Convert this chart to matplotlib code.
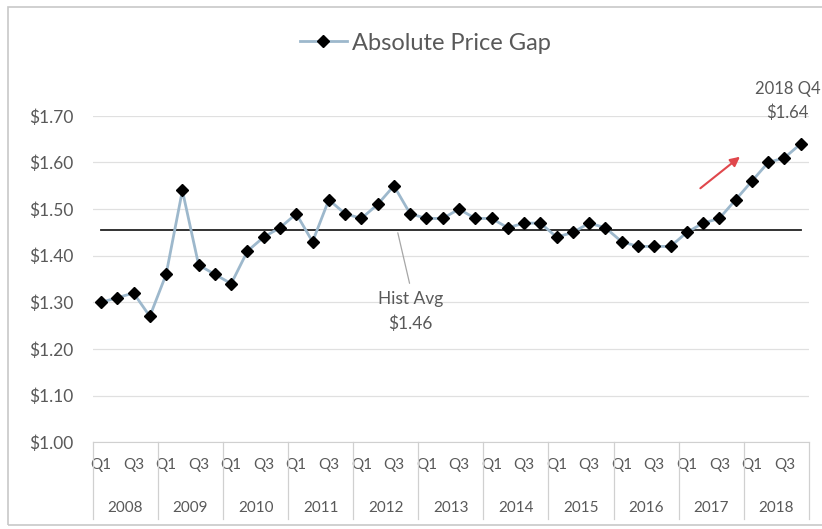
import matplotlib.pyplot as plt
from matplotlib.patches import Rectangle
from matplotlib import transforms

# data
years = ['2008', '2009', '2010', '2011', '2012', '2013',
         '2014', '2015', '2016', '2017', '2018']
quarters = ['Q1', 'Q2', 'Q3', 'Q4']
price_gap = [1.30, 1.31, 1.32, 1.27,
             1.36, 1.54, 1.38, 1.36,
             1.34, 1.41, 1.44, 1.46,
             1.49, 1.43, 1.52, 1.49,
             1.48, 1.51, 1.55, 1.49,
             1.48, 1.48, 1.50, 1.48,
             1.48, 1.46, 1.47, 1.47,
             1.44, 1.45, 1.47, 1.46,
             1.43, 1.42, 1.42, 1.42,
             1.45, 1.47, 1.48, 1.52,
             1.56, 1.60, 1.61, 1.64]
hist_avg = 1.455
yticks = [1.00, 1.10, 1.20, 1.30, 1.40, 1.50, 1.60, 1.70]

plt.rcParams['font.family'] = ['Lato', 'DejaVu Sans']
txt = '#595959'

fig = plt.figure(figsize=(8.22, 5.29), dpi=100)
ax = fig.add_axes([0.113, 0.164, 0.871, 0.617])

x = list(range(len(price_gap)))
ax.plot(x, price_gap, color='#9db8cc', lw=2, marker='D', ms=6.5,
        mfc='black', mec='black', label='Absolute Price Gap', zorder=3)
ax.plot([x[0], x[-1]], [hist_avg, hist_avg], color='#222222', lw=1.3, zorder=2)

ax.set_xlim(-0.5, len(x) - 0.5)
ax.set_ylim(1.00, 1.70)
ax.set_yticks(yticks)
ax.set_yticklabels(['${:.2f}'.format(v) for v in yticks], color=txt, fontsize=12.5)
ax.grid(axis='y', color='#e0e0e0', lw=0.9)
ax.set_axisbelow(True)

xlabels = []
for y in years:
    for q in quarters:
        xlabels.append(q if q in ('Q1', 'Q3') else '')
ax.set_xticks(x)
ax.set_xticklabels(xlabels, color=txt, fontsize=11)
ax.tick_params(axis='both', length=0)
ax.tick_params(axis='x', pad=11)
ax.tick_params(axis='y', pad=14)

for s in ['top', 'right', 'left']:
    ax.spines[s].set_visible(False)
ax.spines['bottom'].set_color('#d0d0d0')

# year labels and group separators
trans = transforms.blended_transform_factory(ax.transData, ax.transAxes)
for i, y in enumerate(years):
    ax.text(i * 4 + 1.5, -0.2, y, transform=trans, ha='center', va='center',
            color=txt, fontsize=11)
for i in range(len(years) + 1):
    ax.plot([i * 4 - 0.5, i * 4 - 0.5], [0, -0.235], transform=trans,
            color='#d0d0d0', lw=0.9, clip_on=False)

# annotations
ax.annotate('', xy=(18.2, hist_avg), xytext=(19.0, 1.335),
            arrowprops=dict(arrowstyle='-', color='#a6a6a6', lw=0.9))
ax.text(19.0, 1.28, 'Hist Avg\n$1.46', ha='center', va='center',
        color=txt, fontsize=12.5, linespacing=1.6)
ax.annotate('', xy=(39.4, 1.616), xytext=(36.7, 1.541),
            arrowprops=dict(arrowstyle='-|>', color='#e0474c', lw=1.5,
                            mutation_scale=14))
ax.text(42.2, 1.732, '2018 Q4\n$1.64', ha='center', va='center',
        color=txt, fontsize=12, linespacing=1.6, clip_on=False)

leg = ax.legend(loc='center', bbox_to_anchor=(0.464, 1.223), frameon=False,
                fontsize=17, handlelength=2.0, handletextpad=0.2)
for t in leg.get_texts():
    t.set_color(txt)

fig.patches.append(Rectangle((8 / 822, 4 / 529), 1.0, 1 - 11 / 529,
                             transform=fig.transFigure, fill=False,
                             ec='#c8c8c8', lw=1.2))

fig.savefig('out.png', dpi=100)
